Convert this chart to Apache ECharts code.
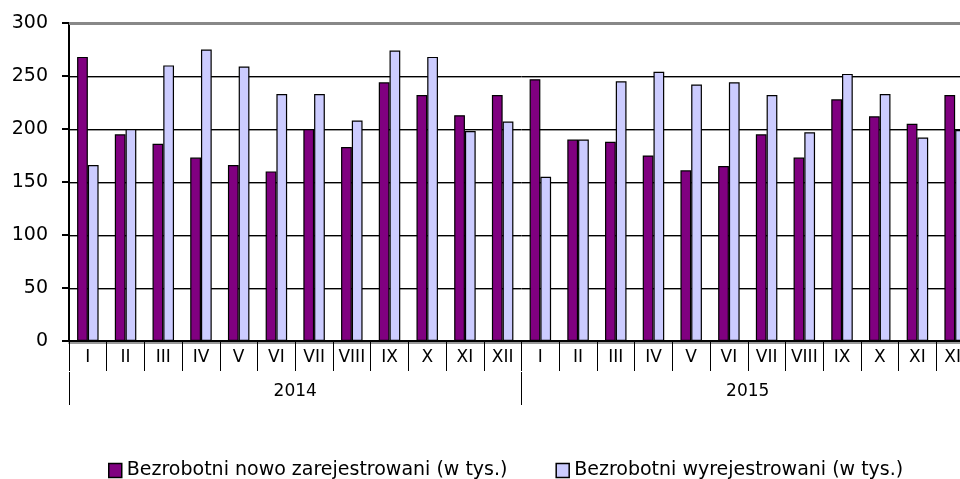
<!DOCTYPE html>
<html>
<head>
<meta charset="utf-8">
<script src="https://cdn.jsdelivr.net/npm/echarts@6/dist/echarts.min.js"></script>
<style>
html, body { margin: 0; padding: 0; background: #fff; overflow: hidden; }
/* the original chart is cut off at the right edge, so the canvas is wider than the window */
#main { width: 980px; height: 479px; }
</style>
</head>
<body>
<div id="main"></div>
<script>
var months = ['I', 'II', 'III', 'IV', 'V', 'VI', 'VII', 'VIII', 'IX', 'X', 'XI', 'XII',
              'I', 'II', 'III', 'IV', 'V', 'VI', 'VII', 'VIII', 'IX', 'X', 'XI', 'XII'];
var years = ['2014', '2015'];
var yTicks = [0, 50, 100, 150, 200, 250, 300];

// Bezrobotni nowo zarejestrowani (w tys.)
var registered = [268, 195, 186, 173, 166, 160, 200, 183, 244, 232, 213, 232,
                  247, 190, 188, 175, 161, 165, 195, 173, 228, 212, 205, 232];
// Bezrobotni wyrejestrowani (w tys.)
var deregistered = [166, 200, 260, 275, 259, 233, 233, 208, 274, 268, 198, 207,
                    155, 190, 245, 254, 242, 244, 232, 197, 252, 233, 192, 199];

var FONT = 'DejaVu Sans';
var chart = echarts.init(document.getElementById('main'));

var option = {
    animation: false,
    backgroundColor: '#ffffff',
    textStyle: { fontFamily: FONT, color: '#000' },
    grid: { left: 69, top: 23, width: 905, height: 318 },
    legend: {
        left: 103,
        top: 456,
        icon: 'rect',
        itemWidth: 13,
        itemHeight: 14,
        itemGap: 48,
        textStyle: { fontFamily: FONT, fontSize: 19, color: '#000' },
        data: [
            { name: 'Bezrobotni nowo zarejestrowani (w tys.)', itemStyle: { borderColor: '#000', borderWidth: 1.5 } },
            { name: 'Bezrobotni wyrejestrowani (w tys.)', itemStyle: { borderColor: '#000', borderWidth: 1.5 } }
        ]
    },
    xAxis: [{
        type: 'category',
        data: months,
        axisLine: { lineStyle: { color: '#000', width: 2, shadowColor: '#999', shadowOffsetY: 2 } },
        axisTick: { show: true, interval: 0, length: 30, lineStyle: { color: '#000' } },
        axisLabel: { interval: 0, margin: 8, fontSize: 17, color: '#000', fontFamily: FONT }
    }, {
        type: 'category',
        data: years,
        position: 'bottom',
        offset: 31,
        axisLine: { show: false },
        axisTick: { show: true, length: 33, lineStyle: { color: '#000' } },
        axisLabel: { margin: 11, fontSize: 17, color: '#000', fontFamily: FONT }
    }],
    yAxis: {
        type: 'value',
        min: yTicks[0],
        max: yTicks[yTicks.length - 1],
        interval: 50,
        axisLine: { show: true, lineStyle: { color: '#000', width: 2 } },
        axisTick: { show: true, length: 7, lineStyle: { color: '#000', width: 2 } },
        axisLabel: { margin: 21, fontSize: 19, color: '#000', fontFamily: FONT },
        splitLine: { lineStyle: { color: ['#000', '#000', '#000', '#000', '#000', '#000', '#888'], width: 1, shadowColor: '#999', shadowOffsetY: 1 } }
    },
    series: [{
        name: 'Bezrobotni nowo zarejestrowani (w tys.)',
        type: 'bar',
        data: registered,
        barGap: '0%',
        barCategoryGap: '43%',
        itemStyle: { color: '#800080', borderColor: '#000', borderWidth: 1.2 },
        markLine: {
            silent: true,
            symbol: 'none',
            label: { show: false },
            lineStyle: { color: '#888', width: 3, type: 'solid' },
            data: [{ yAxis: yTicks[yTicks.length - 1] }]
        }
    }, {
        name: 'Bezrobotni wyrejestrowani (w tys.)',
        type: 'bar',
        data: deregistered,
        itemStyle: { color: '#ccccff', borderColor: '#000', borderWidth: 1.2 }
    }]
};

chart.setOption(option);
</script>
</body>
</html>
